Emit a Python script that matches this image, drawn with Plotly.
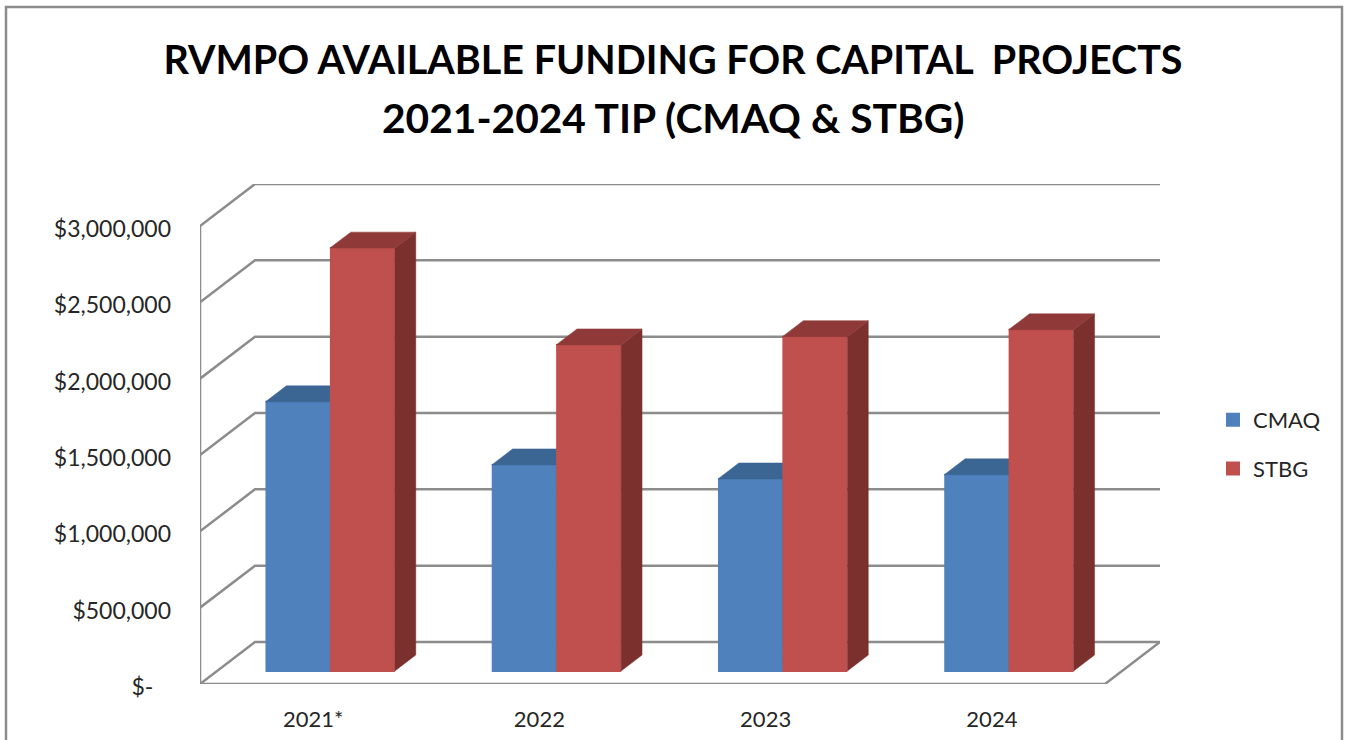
import plotly.graph_objects as go

# ---- data ----
categories = ["2021*", "2022", "2023", "2024"]
cmaq = [1763000, 1350000, 1258000, 1285000]
stbg = [2770000, 2136000, 2190000, 2235000]
tick_values = [0, 500000, 1000000, 1500000, 2000000, 2500000, 3000000]
tick_labels = ["$-\u00a0\u00a0\u00a0", "$500,000", "$1,000,000", "$1,500,000", "$2,000,000", "$2,500,000", "$3,000,000"]
title_lines = ["RVMPO AVAILABLE FUNDING FOR CAPITAL\u00a0 PROJECTS", "2021-2024 TIP (CMAQ &amp; STBG)"]

FONT = "Lato, Carlito, Calibri, sans-serif"
GRID = "#8c8c8c"
BLUE, BLUE_SIDE, BLUE_TOP = "#4F81BD", "#335A8A", "#3B6592"
RED, RED_SIDE, RED_TOP = "#C0504D", "#7B302E", "#8F3A38"

# plot frame (figure pixels)
W, H = 1349, 740
L, R, T, B = 200, 1160, 184, 684
CAT_PX = (1105 - 200) / 4
USD_PER_PX = 3000000 / 458

DX = 55 / CAT_PX            # full floor depth in x-axis units
DY = 42 * USD_PER_PX        # full floor depth in dollars
n = len(categories)
xrange_ = [0, n + DX]
yrange_ = [0, (B - T) * USD_PER_PX]

BAR_W = 63 / CAT_PX
STROKE = 1 / CAT_PX         # half of the bar outline, in x-axis units
FRONT = 0.31                # bars stand this far back on the floor
DEPTH = 0.38                # and are this deep


def faces(values, centre_shift):
    side_x, side_y, top_x, top_y = [], [], [], []
    for i, v in enumerate(values):
        xc = i + 0.5 + FRONT * DX + centre_shift
        l_, r_ = xc - BAR_W / 2 - STROKE, xc + BAR_W / 2 + STROKE
        b = FRONT * DY
        dx, dy = DEPTH * DX, DEPTH * DY
        side_x += [r_, r_ + dx, r_ + dx, r_, r_, None]
        side_y += [b + v, b + v + dy, b + dy, b, b + v, None]
        top_x += [l_, l_ + dx, r_ + dx, r_, l_, None]
        top_y += [b + v, b + v + dy, b + v + dy, b + v, b + v, None]
    return side_x, side_y, top_x, top_y


fig = go.Figure()

# walls and floor (base subplot, under everything)
gx, gy = [], []
for v in tick_values:
    gx += [0, DX, n + DX, None]
    gy += [v, v + DY, v + DY, None]
gx += [0, 0, None, 0, n, n + DX, None]
gy += [tick_values[-1], 0, None, 0, 0, DY, None]
fig.add_trace(go.Scatter(x=gx, y=gy, mode="lines", line=dict(color=GRID, width=2.5),
                         showlegend=False, hoverinfo="skip", cliponaxis=False))

SHIFT = (BAR_W + 1.4 / CAT_PX) / 2
bar_x_a = [i + 0.5 + FRONT * DX - SHIFT for i in range(n)]
bar_x_b = [i + 0.5 + FRONT * DX + SHIFT for i in range(n)]
base = [FRONT * DY] * n

for vals, shift, col, side, top, xs, name, xa, ya in [
    (cmaq, -SHIFT, BLUE, BLUE_SIDE, BLUE_TOP, bar_x_a, "CMAQ", "x2", "y2"),
    (stbg, SHIFT, RED, RED_SIDE, RED_TOP, bar_x_b, "STBG", "x3", "y3"),
]:
    sx, sy, tx, ty = faces(vals, shift)
    fig.add_trace(go.Bar(x=xs, y=vals, base=base, width=BAR_W, name=name, legendgroup=name,
                         marker=dict(color=col, line=dict(color=col, width=2)),
                         xaxis=xa, yaxis=ya))
    for fx, fy, c in [(sx, sy, side), (tx, ty, top)]:
        fig.add_trace(go.Scatter(x=fx, y=fy, mode="lines", fill="toself", fillcolor=c,
                                 line=dict(color=c, width=0.5), showlegend=False,
                                 hoverinfo="skip", xaxis=xa, yaxis=ya))

px = lambda x: (x - L) / (R - L)
py = lambda y: (B - y) / (B - T)

fig.update_layout(
    width=W, height=H,
    margin=dict(l=L, r=W - R, t=T, b=H - B, pad=0, autoexpand=False),
    paper_bgcolor="white", plot_bgcolor="white",
    font=dict(family=FONT, color="#262626"),
    barmode="overlay",
    title=dict(text=title_lines[0],
               font=dict(family=FONT, size=39.5, color="black", weight="bold"),
               x=673 / W, xanchor="center", y=1 - 60 / H, yanchor="middle", xref="container", yref="container"),
    annotations=[dict(text=title_lines[1], xref="paper", yref="paper", x=px(673), y=py(117),
                      xanchor="center", yanchor="middle", showarrow=False,
                      font=dict(family=FONT, size=40.7, color="black", weight="bold"))],
    xaxis=dict(range=xrange_, tickmode="array", automargin=False,
               tickvals=[i + 0.5 for i in range(n)], ticktext=categories,
               showgrid=False, zeroline=False, showline=False, ticks="",
               ticklabelstandoff=20, tickfont=dict(size=22, color="#262626")),
    yaxis=dict(range=yrange_, tickmode="array", tickvals=tick_values, ticktext=tick_labels, automargin=False,
               showgrid=False, zeroline=False, showline=False, ticks="",
               ticklabelstandoff=28, ticklabelshift=3, tickfont=dict(size=23, color="#262626")),
    xaxis2=dict(range=xrange_, overlaying="x", visible=False),
    yaxis2=dict(range=yrange_, overlaying="y", visible=False),
    xaxis3=dict(range=xrange_, overlaying="x", visible=False),
    yaxis3=dict(range=yrange_, overlaying="y", visible=False),
    legend=dict(x=px(1213), xanchor="left", y=py(399), yanchor="top",
                traceorder="grouped", tracegroupgap=17,
                font=dict(size=22, color="#262626"), bgcolor="rgba(0,0,0,0)"),
    shapes=[dict(type="rect", xref="paper", yref="paper",
                 x0=px(6), x1=px(1342), y0=py(770), y1=py(7),
                 line=dict(color=GRID, width=2.5), fillcolor="rgba(0,0,0,0)", layer="below")],
)

fig.write_html("out.html", config={"displayModeBar": False},
               post_script="document.body.style.margin='0';")
